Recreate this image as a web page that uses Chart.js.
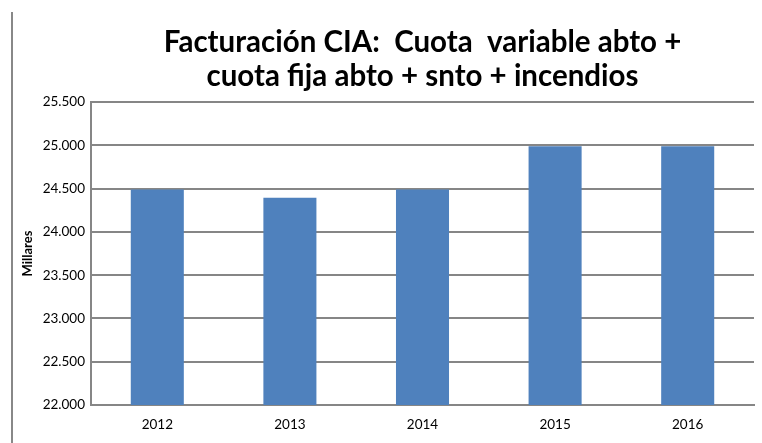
<!DOCTYPE html>
<html>
<head>
<meta charset="utf-8">
<script src="https://cdn.jsdelivr.net/npm/chart.js@4/dist/chart.umd.min.js"></script>
<style>
  html, body { margin: 0; padding: 0; background: #fff; }
  #wrap { position: relative; width: 762px; height: 443px; }
  #frame { position: absolute; left: 11px; top: 12px; width: 0; height: 431px; border-left: 2px solid #888; }
</style>
</head>
<body>
<div id="wrap">
  <div id="frame"></div>
  <canvas id="chart" width="762" height="443"></canvas>
</div>
<script>
const years = ["2012", "2013", "2014", "2015", "2016"];
const facturacion = [24490, 24395, 24490, 24990, 24990];
const titleLines = ["Facturación CIA:  Cuota  variable abto +", "cuota fija abto + snto + incendios"];
const yMin = 22000;
const yMax = 25500;
const yStep = 500;

// 25500 -> "25.500"
function formatMiles(v) {
    return String(v).replace(/\B(?=(\d{3})+(?!\d))/g, ".");
}

const ctx = document.getElementById("chart").getContext("2d");
new Chart(ctx, {
    type: "bar",
    data: {
        labels: years,
        datasets: [{
            data: facturacion,
            backgroundColor: "#4F81BD",
            barPercentage: 0.4,
            categoryPercentage: 1.0
        }]
    },
    options: {
        responsive: false,
        animation: false,
        layout: { padding: { left: 20, right: 8, top: 0, bottom: 0 } },
        plugins: {
            legend: { display: false },
            tooltip: { enabled: false },
            title: {
                display: true,
                text: titleLines,
                fullSize: false,
                color: "#000",
                font: { family: "Lato", size: 29.5, weight: "bold", lineHeight: 1.17 },
                padding: { top: 25, bottom: 8 }
            }
        },
        scales: {
            x: {
                grid: { display: false, drawTicks: false },
                border: { display: true, color: "#868686", width: 2 },
                ticks: { color: "#000", font: { family: "Lato", size: 13.5 }, padding: 12 },
                afterFit: (scale) => { scale.height = 38; }
            },
            y: {
                min: yMin,
                max: yMax,
                grid: { color: "#868686", lineWidth: 2, drawTicks: false },
                border: { display: true, color: "#868686", width: 2 },
                ticks: {
                    stepSize: yStep,
                    color: "#000",
                    padding: 6,
                    font: { family: "Lato", size: 13.5 },
                    callback: (v) => formatMiles(v)
                },
                title: {
                    display: true,
                    text: "Millares",
                    color: "#000",
                    font: { family: "Lato", size: 13, weight: "bold" },
                    padding: { top: 0, bottom: 4 }
                },
                afterFit: (scale) => { scale.width = 71; }
            }
        }
    }
});
</script>
</body>
</html>
